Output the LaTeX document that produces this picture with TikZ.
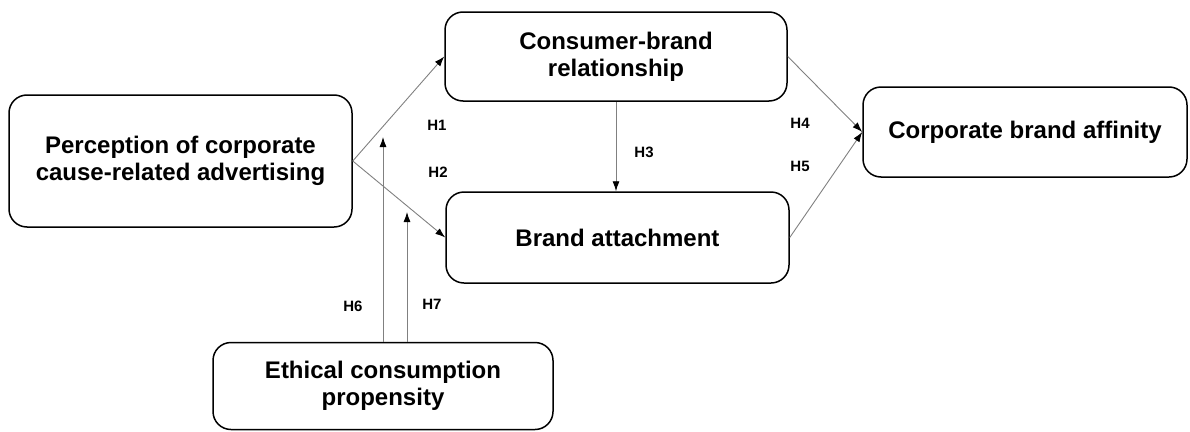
\documentclass[tikz,border=0pt]{standalone}
\usepackage{fontspec}
\setmainfont{Liberation Sans}
\usetikzlibrary{arrows.meta}

\begin{document}
\begin{tikzpicture}[x=1pt,y=-1pt,
	box/.style={draw, line width=1.5pt, rounded corners=18pt, align=center, inner sep=0pt, font=\fontsize{24}{27}\selectfont\bfseries},
	link/.style={draw=gray, line width=0.9pt, -{Latex[black,length=10pt,width=7pt]}},
	hyp/.style={font=\fontsize{15}{18}\selectfont\bfseries}]
	\useasboundingbox (0,0) rectangle (1190,431);

	\node[box, minimum width=343pt, minimum height=132pt] (perc) at (180.5,161) {Perception of corporate\\cause-related advertising};
	\node[box, minimum width=342pt, minimum height=89pt] (cbr) at (616,56.5) {Consumer-brand\\relationship};
	\node[box, minimum width=343pt, minimum height=91pt] (ba) at (617.5,237.5) {Brand attachment};
	\node[box, minimum width=324pt, minimum height=90pt] (cba) at (1025,132) {Corporate brand affinity};
	\node[box, minimum width=340pt, minimum height=87pt] (ecp) at (383,386) {Ethical consumption\\propensity};

	\coordinate (h6tip) at (383,137);
	\coordinate (h7tip) at (407,212);

	\draw[link] (perc.east) -- (cbr.west);
	\draw[link] (perc.east) -- (ba.west);
	\draw[link] (cbr.south) -- (cbr.south |- ba.north);
	\draw[link] (cbr.east) -- (cba.west);
	\draw[link] (ba.east) -- (cba.west);
	\draw[link] (ecp.north) -- (h6tip);
	\draw[link] (ecp.north -| h7tip) -- (h7tip);

	\node[hyp] (h1) at (437,125) {H1};
	\node[hyp] (h2) at (438,172) {H2};
	\node[hyp] (h3) at (644,152) {H3};
	\node[hyp] (h4) at (800,123) {H4};
	\node[hyp] (h5) at (800,166) {H5};
	\node[hyp] (h6) at (353,306) {H6};
	\node[hyp] (h7) at (432,304) {H7};

\end{tikzpicture}
\end{document}
